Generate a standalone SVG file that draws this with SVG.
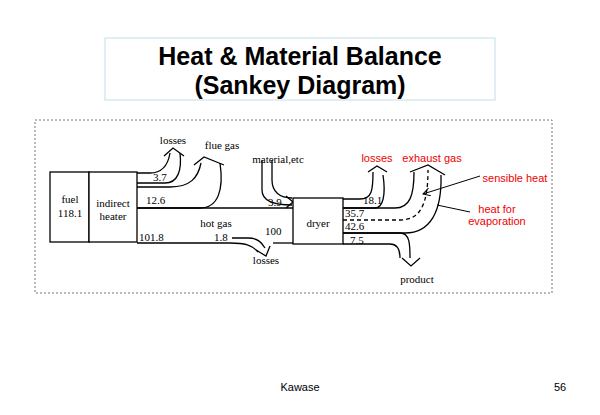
<svg xmlns="http://www.w3.org/2000/svg" width="600" height="415" viewBox="0 0 600 415">
<style>
.t{font-family:"Liberation Serif",serif;font-size:11px;fill:#000}
.r{font-family:"Liberation Sans",sans-serif;font-size:11px;fill:#e00}
.ln{fill:none;stroke:#000;stroke-width:1.3}
.bx{fill:#fff;stroke:#000;stroke-width:1.3}
</style>
<defs><marker id="a" markerWidth="8" markerHeight="8" refX="7" refY="4" orient="auto" markerUnits="userSpaceOnUse"><path d="M0,0 L7,4 L0,8" fill="none" stroke="#000"/></marker></defs>
<rect width="600" height="415" fill="#fff"/>
<g id="title"><rect x="105" y="38" width="390" height="62" fill="#fff" stroke="#bfe0e8"/>
<text x="300" y="65" text-anchor="middle" font-family="Liberation Sans,sans-serif" font-weight="bold" font-size="25">Heat &amp; Material Balance</text>
<text x="300" y="94" text-anchor="middle" font-family="Liberation Sans,sans-serif" font-weight="bold" font-size="25">(Sankey Diagram)</text></g>
<rect x="35" y="120" width="517" height="173" fill="none" stroke="#777" stroke-dasharray="2,2"/>
<g id="connectors">
<path class="ln" d="M137,173 H150 C162,173 168,165 170,153"/>
<path class="ln" d="M137,183 H165 C178,183 182,170 180,153"/>
<path d="M164,156 L173,148 L184,156" class="ln"/>
<path class="ln" d="M137,187 H170 C190,187 198,178 201,163"/>
<path class="ln" d="M137,208 H200 C218,208 224,190 220,163"/>
<path d="M194,165 L204,157 L224,165" class="ln"/>
<path class="ln" d="M137,208 H293"/>
<path class="ln" d="M137,243 H230 C245,243 252,245 258,252"/>
<path class="ln" d="M232,238 H248 C258,238 262,243 265,248"/>
<path d="M256,250 L266,256 L270,246" class="ln"/>
<path class="ln" d="M273,243 H293"/>
<path class="ln" d="M262,160 V190 C262,200 272,205 292,205"/>
<path class="ln" d="M272,160 V180 C272,192 280,198 292,198"/>
<path d="M286,196 L293,202 L286,208" class="ln"/>
<path class="ln" d="M343,199 H360 C372,199 373,190 373,172"/>
<path class="ln" d="M343,208 H375 C383,208 386,195 383,175"/>
<path d="M368,172 L377,166 L387,172" class="ln"/>
<path class="ln" d="M343,208 H395 C410,208 414,195 414,172"/>
<path class="ln" d="M343,220 H400 C420,220 428,205 428,170" stroke-dasharray="4,3"/>
<path class="ln" d="M343,233 H405 C430,233 442,212 441,175"/>
<path d="M410,172 L428,165 L445,175" class="ln"/>
<path class="ln" d="M343,233 H400 C410,233 410,245 410,258"/>
<path class="ln" d="M343,244 H390 C398,244 400,250 400,258"/>
<path d="M402,258 L411,266 L420,258" class="ln"/>
<path d="M480,176 L423,194" stroke="#000" marker-end="url(#a)"/>
<path d="M470,212 L437,205" stroke="#000"/>
</g>
<g id="fuel"><rect class="bx" x="50" y="172" width="39" height="70"/><text class="t" x="70" y="203" text-anchor="middle">fuel</text><text class="t" x="70" y="217" text-anchor="middle">118.1</text></g>
<g id="heater"><rect class="bx" x="89" y="172" width="48" height="70"/><text class="t" x="113" y="207" text-anchor="middle">indirect</text><text class="t" x="113" y="220" text-anchor="middle">heater</text></g>
<g id="dryer"><rect class="bx" x="293" y="198" width="50" height="46"/><text class="t" x="318" y="227" text-anchor="middle">dryer</text></g>
<g id="labels">
<text class="t" x="173" y="144" text-anchor="middle">losses</text>
<text class="t" x="222" y="149" text-anchor="middle">flue gas</text>
<text class="t" x="153" y="181">3.7</text>
<text class="t" x="146" y="204">12.6</text>
<text class="t" x="139" y="241">101.8</text>
<text class="t" x="216" y="227" text-anchor="middle">hot gas</text>
<text class="t" x="214" y="241">1.8</text>
<text class="t" x="265" y="235">100</text>
<text class="t" x="266" y="264" text-anchor="middle">losses</text>
<text class="t" x="278" y="163" text-anchor="middle">material,etc</text>
<text class="t" x="268" y="206">3.9</text>
<text class="t" x="363" y="204">18.1</text>
<text class="t" x="345" y="217">35.7</text>
<text class="t" x="345" y="230">42.6</text>
<text class="t" x="350" y="244">7.5</text>
<text class="t" x="417" y="283" text-anchor="middle">product</text>
<text class="r" x="377" y="162" text-anchor="middle">losses</text>
<text class="r" x="432" y="162" text-anchor="middle">exhaust gas</text>
<text class="r" x="515" y="182" text-anchor="middle">sensible heat</text>
<text class="r" x="497" y="213" text-anchor="middle">heat for</text>
<text class="r" x="497" y="225" text-anchor="middle">evaporation</text>
</g>
<text x="300" y="391" text-anchor="middle" font-family="Liberation Sans,sans-serif" font-size="11">Kawase</text>
<text x="560" y="391" text-anchor="middle" font-family="Liberation Sans,sans-serif" font-size="11">56</text>
</svg>
